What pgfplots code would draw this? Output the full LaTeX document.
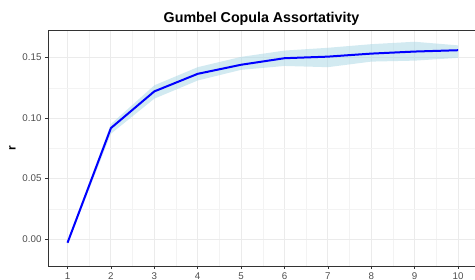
\documentclass[border=0pt]{standalone}
\usepackage{pgfplots}
\pgfplotsset{compat=1.18}
\usepgfplotslibrary{fillbetween}
\usepackage{pgfplotstable}
\usepackage{fontspec}
\setmainfont{Liberation Sans}
\definecolor{gridmaj}{RGB}{235,235,235}
\definecolor{gridmin}{RGB}{243,243,243}
\definecolor{frame}{RGB}{51,51,51}
\definecolor{ticklab}{RGB}{77,77,77}
\definecolor{ribbon}{RGB}{173,216,230}
\pgfplotstableread{
x y lo hi
1 -0.003 -0.0045 -0.0015
2 0.0917 0.0870 0.0950
3 0.1220 0.1160 0.1270
4 0.1365 0.1310 0.1420
5 0.1440 0.1398 0.1505
6 0.1494 0.1430 0.1557
7 0.1507 0.1420 0.1580
8 0.1532 0.1466 0.1610
9 0.1549 0.1474 0.1630
10 0.1560 0.1497 0.1600
}\data
\begin{document}
\begin{tikzpicture}
\begin{axis}[
  scale only axis,
  width=427bp, height=236bp,
  xmin=0.55, xmax=10.39,
  ymin=-0.0222, ymax=0.1727,
  axis line style={frame, line width=0.8bp},
  xtick={1,2,3,4,5,6,7,8,9,10},
  minor xtick={1.5,2.5,3.5,4.5,5.5,6.5,7.5,8.5,9.5},
  ytick={0,0.05,0.1,0.15},
  minor ytick={0.025,0.075,0.125},
  grid=both,
  major grid style={gridmaj, line width=0.9bp},
  minor grid style={gridmin, line width=0.5bp},
  tick align=outside,
  xtick pos=bottom, ytick pos=left,
  major tick length=3bp, minor tick length=0pt,
  tick style={frame, line width=0.6bp},
  ticklabel style={font=\fontsize{9.8}{10}\selectfont, text=ticklab},
  /pgf/number format/assume math mode=true,
  yticklabel style={/pgf/number format/.cd, fixed, fixed zerofill, precision=2},
  xticklabel style={/pgf/number format/.cd, fixed, precision=0},
  title={\textbf{Gumbel Copula Assortativity}},
  title style={font=\fontsize{14.3}{15}\selectfont, at={(axis description cs:0.5,1)}, anchor=base, yshift=2bp},
  xlabel={\textbf{θ}},
  ylabel={\textbf{r}},
  label style={font=\fontsize{12}{13}\selectfont},
  xlabel style={anchor=north, yshift=-2bp},
  ylabel style={anchor=south, yshift=0bp},
]
\addplot[name path=H, draw=none, forget plot] table[x=x, y=hi] {\data};
\addplot[name path=L, draw=none, forget plot] table[x=x, y=lo] {\data};
\addplot[draw=none, fill=ribbon, fill opacity=0.55, forget plot] fill between[of=H and L];
\addplot[blue, line width=2bp, line join=round] table[x=x, y=y] {\data};
\end{axis}
\pgfresetboundingbox
\path[use as bounding box] ([shift={(-48bp,-14bp)}]current axis.south west) rectangle ([shift={(0bp,30bp)}]current axis.north east);
\end{tikzpicture}
\end{document}
